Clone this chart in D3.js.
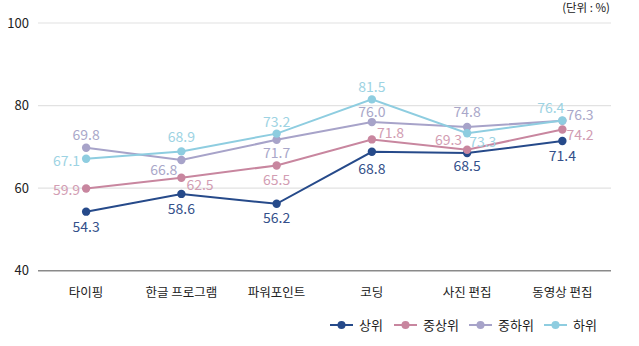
<!DOCTYPE html>
<html><head><meta charset="utf-8">
<script src="https://cdn.jsdelivr.net/npm/d3@7"></script>
<style>body{margin:0;background:#fff}svg{display:block;font-family:"Noto Sans CJK KR","Noto Sans",sans-serif}</style>
</head><body><svg id="c" width="639" height="346"></svg>
<script>
const categories = ["타이핑","한글 프로그램","파워포인트","코딩","사진 편집","동영상 편집"];
const seriesNames = ["상위","중상위","중하위","하위"];
const top1 = [54.3,58.6,56.2,68.8,68.5,71.4];
const midHigh = [59.9,62.5,65.5,71.8,69.3,74.2];
const midLow = [69.8,66.8,71.7,76.0,74.8,76.3];
const low = [67.1,68.9,73.2,81.5,73.3,76.4];
const yTicks = [40,60,80,100];
// label placement per point: [anchor, dx, dy of text centre]
const labelPos = [
  [["m",0,15],["m",0,15],["m",0,14.5],["m",0,17],["m",0,13],["m",0,15]],
  [["e",-6,1.7],["s",5,7],["m",0,14.5],["s",5,-6.5],["e",-5,-10],["s",4,5]],
  [["m",0,-13],["e",-4,10],["m",0,13],["m",0,-10],["m",0,-15],["s",4,-5.5]],
  [["e",-6,2],["m",0,-14],["m",0,-11.5],["m",0,-12],["s",2,8.5],["e",2,-12.5]]
];
const colors = ["#264a8a","#c8869f","#a7a3c9","#8ecde0"];
const labelColors = ["#34508a","#d29db3","#a9a7c9","#9dd3e3"];
const data = [top1, midHigh, midLow, low];

const svg = d3.select("#c");
const x = d3.scalePoint().domain(categories).range([38.5,610]).padding(0.5);
const y = d3.scaleLinear().domain([40,100]).range([270.7,23]);

// grid
svg.append("g").selectAll("line").data(yTicks.filter(t=>t>40)).join("line")
  .attr("x1",38).attr("x2",611).attr("y1",d=>y(d)).attr("y2",d=>y(d))
  .attr("stroke","#e2e2e2").attr("stroke-width",1.2);
svg.append("line").attr("x1",38).attr("x2",611).attr("y1",y(40)).attr("y2",y(40))
  .attr("stroke","#8a8a8a").attr("stroke-width",1.5);
svg.append("g").selectAll("text").data(yTicks).join("text")
  .attr("x",29).attr("y",d=>y(d)).attr("dy","0.35em").attr("text-anchor","end")
  .attr("font-size",13).attr("fill","#222").text(d=>d);
svg.append("g").selectAll("text").data(categories).join("text")
  .attr("x",d=>x(d)).attr("y",297).attr("text-anchor","middle")
  .attr("font-size",12.5).attr("fill","#222").text(d=>d);
svg.append("text").attr("x",610).attr("y",12).attr("text-anchor","end")
  .attr("font-size",11.5).attr("fill","#222").text("(단위 : %)");

const line = d3.line().x((d,i)=>x(categories[i])).y(d=>y(d));
data.forEach((vals,s)=>{
  const g = svg.append("g");
  g.append("path").datum(vals).attr("d",line).attr("fill","none")
    .attr("stroke",colors[s]).attr("stroke-width",2);
  g.selectAll("circle").data(vals).join("circle")
    .attr("cx",(d,i)=>x(categories[i])).attr("cy",d=>y(d)).attr("r",4.2).attr("fill",colors[s]);
});
const anchors = {m:"middle",s:"start",e:"end"};
data.forEach((vals,s)=>{
  svg.append("g").selectAll("text").data(vals).join("text")
    .each(function(d,i){
      const [a,dx,dy] = labelPos[s][i];
      d3.select(this).attr("x",x(categories[i])+dx).attr("y",y(d)+dy+5)
        .attr("text-anchor",anchors[a]);
    })
    .attr("font-size",14).attr("fill",labelColors[s]).text(d=>d.toFixed(1));
});

// legend
const legX = [330,394,469,544];
const lg = svg.append("g");
seriesNames.forEach((n,s)=>{
  const g = lg.append("g").attr("transform",`translate(${legX[s]},325)`);
  g.append("line").attr("x1",0).attr("x2",23).attr("stroke",colors[s]).attr("stroke-width",2);
  g.append("circle").attr("cx",11.5).attr("r",4).attr("fill",colors[s]);
  g.append("text").attr("x",29).attr("dy","0.35em").attr("font-size",13).attr("fill","#222").text(n);
});
</script></body></html>
